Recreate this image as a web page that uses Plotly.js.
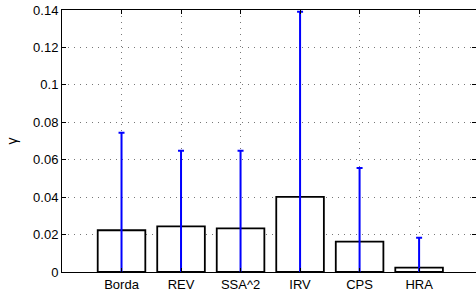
<!DOCTYPE html>
<html>
<head>
<meta charset="utf-8">
<script src="https://cdn.plot.ly/plotly-3.0.1.min.js"></script>
<style>html,body{margin:0;padding:0;background:#fff;}#chart{width:476px;height:293px;}</style>
</head>
<body>
<div id="chart"></div>
<script>
const categories = ["Borda", "REV", "SSA^2", "IRV", "CPS", "HRA"];
const positions = [1, 2, 3, 4, 5, 6];
const gammaValues = [0.0223, 0.0244, 0.0233, 0.0401, 0.0162, 0.0023];
const gammaErrors = [0.0521, 0.0404, 0.0415, 0.0990, 0.0394, 0.0160];
const yTickVals = [0, 0.02, 0.04, 0.06, 0.08, 0.1, 0.12, 0.14];
const yTickText = ["0", "0.02", "0.04", "0.06", "0.08", "0.1", "0.12", "0.14"];

const font = {family: "Liberation Sans, Arial, sans-serif", size: 13, color: "#000"};

const trace = {
  type: "bar",
  x: positions,
  y: gammaValues,
  width: 0.8,
  marker: {color: "#ffffff", line: {color: "#000000", width: 1.8}},
  error_y: {type: "data", array: gammaErrors, visible: true, color: "#0000ff", thickness: 2, width: 3},
  hoverinfo: "none"
};
const ghost = {
  type: "scatter", x: [1], y: [0], yaxis: "y2", mode: "none", showlegend: false, hoverinfo: "none"
};

const layout = {
  width: 476, height: 293,
  margin: {l: 62, r: 0, t: 10, b: 21},
  paper_bgcolor: "#fff", plot_bgcolor: "#fff",
  font: font,
  showlegend: false,
  bargap: 0.2,
  xaxis: {
    range: [0, 6.956],
    tickvals: positions, ticktext: categories,
    ticks: "inside", ticklen: 4, tickcolor: "#000", tickwidth: 1,
    showline: true, linecolor: "#000", linewidth: 1, mirror: "ticks",
    showgrid: true, gridcolor: "#777", griddash: "1px,5px", gridwidth: 1,
    zeroline: false, fixedrange: true,
    tickfont: font
  },
  yaxis: {
    range: [0, 0.14],
    tickvals: yTickVals, ticktext: yTickText,
    ticks: "inside", ticklen: 4, tickcolor: "#000", tickwidth: 1,
    showline: true, linecolor: "#000", linewidth: 1,
    showgrid: true, gridcolor: "#777", griddash: "1px,5px", gridwidth: 1,
    zeroline: false, fixedrange: true,
    tickfont: font,
    title: {text: "γ", font: {family: "Liberation Sans, Arial, sans-serif", size: 14, color: "#000"}, standoff: 12}
  },
  yaxis2: {
    overlaying: "y", side: "right", range: [0, 0.14],
    tickvals: yTickVals, showticklabels: false,
    ticks: "inside", ticklen: 4, tickcolor: "#000", tickwidth: 1,
    showline: false, showgrid: false, zeroline: false, fixedrange: true
  }
};

Plotly.newPlot("chart", [trace, ghost], layout, {staticPlot: true, displayModeBar: false});
</script>
</body>
</html>
